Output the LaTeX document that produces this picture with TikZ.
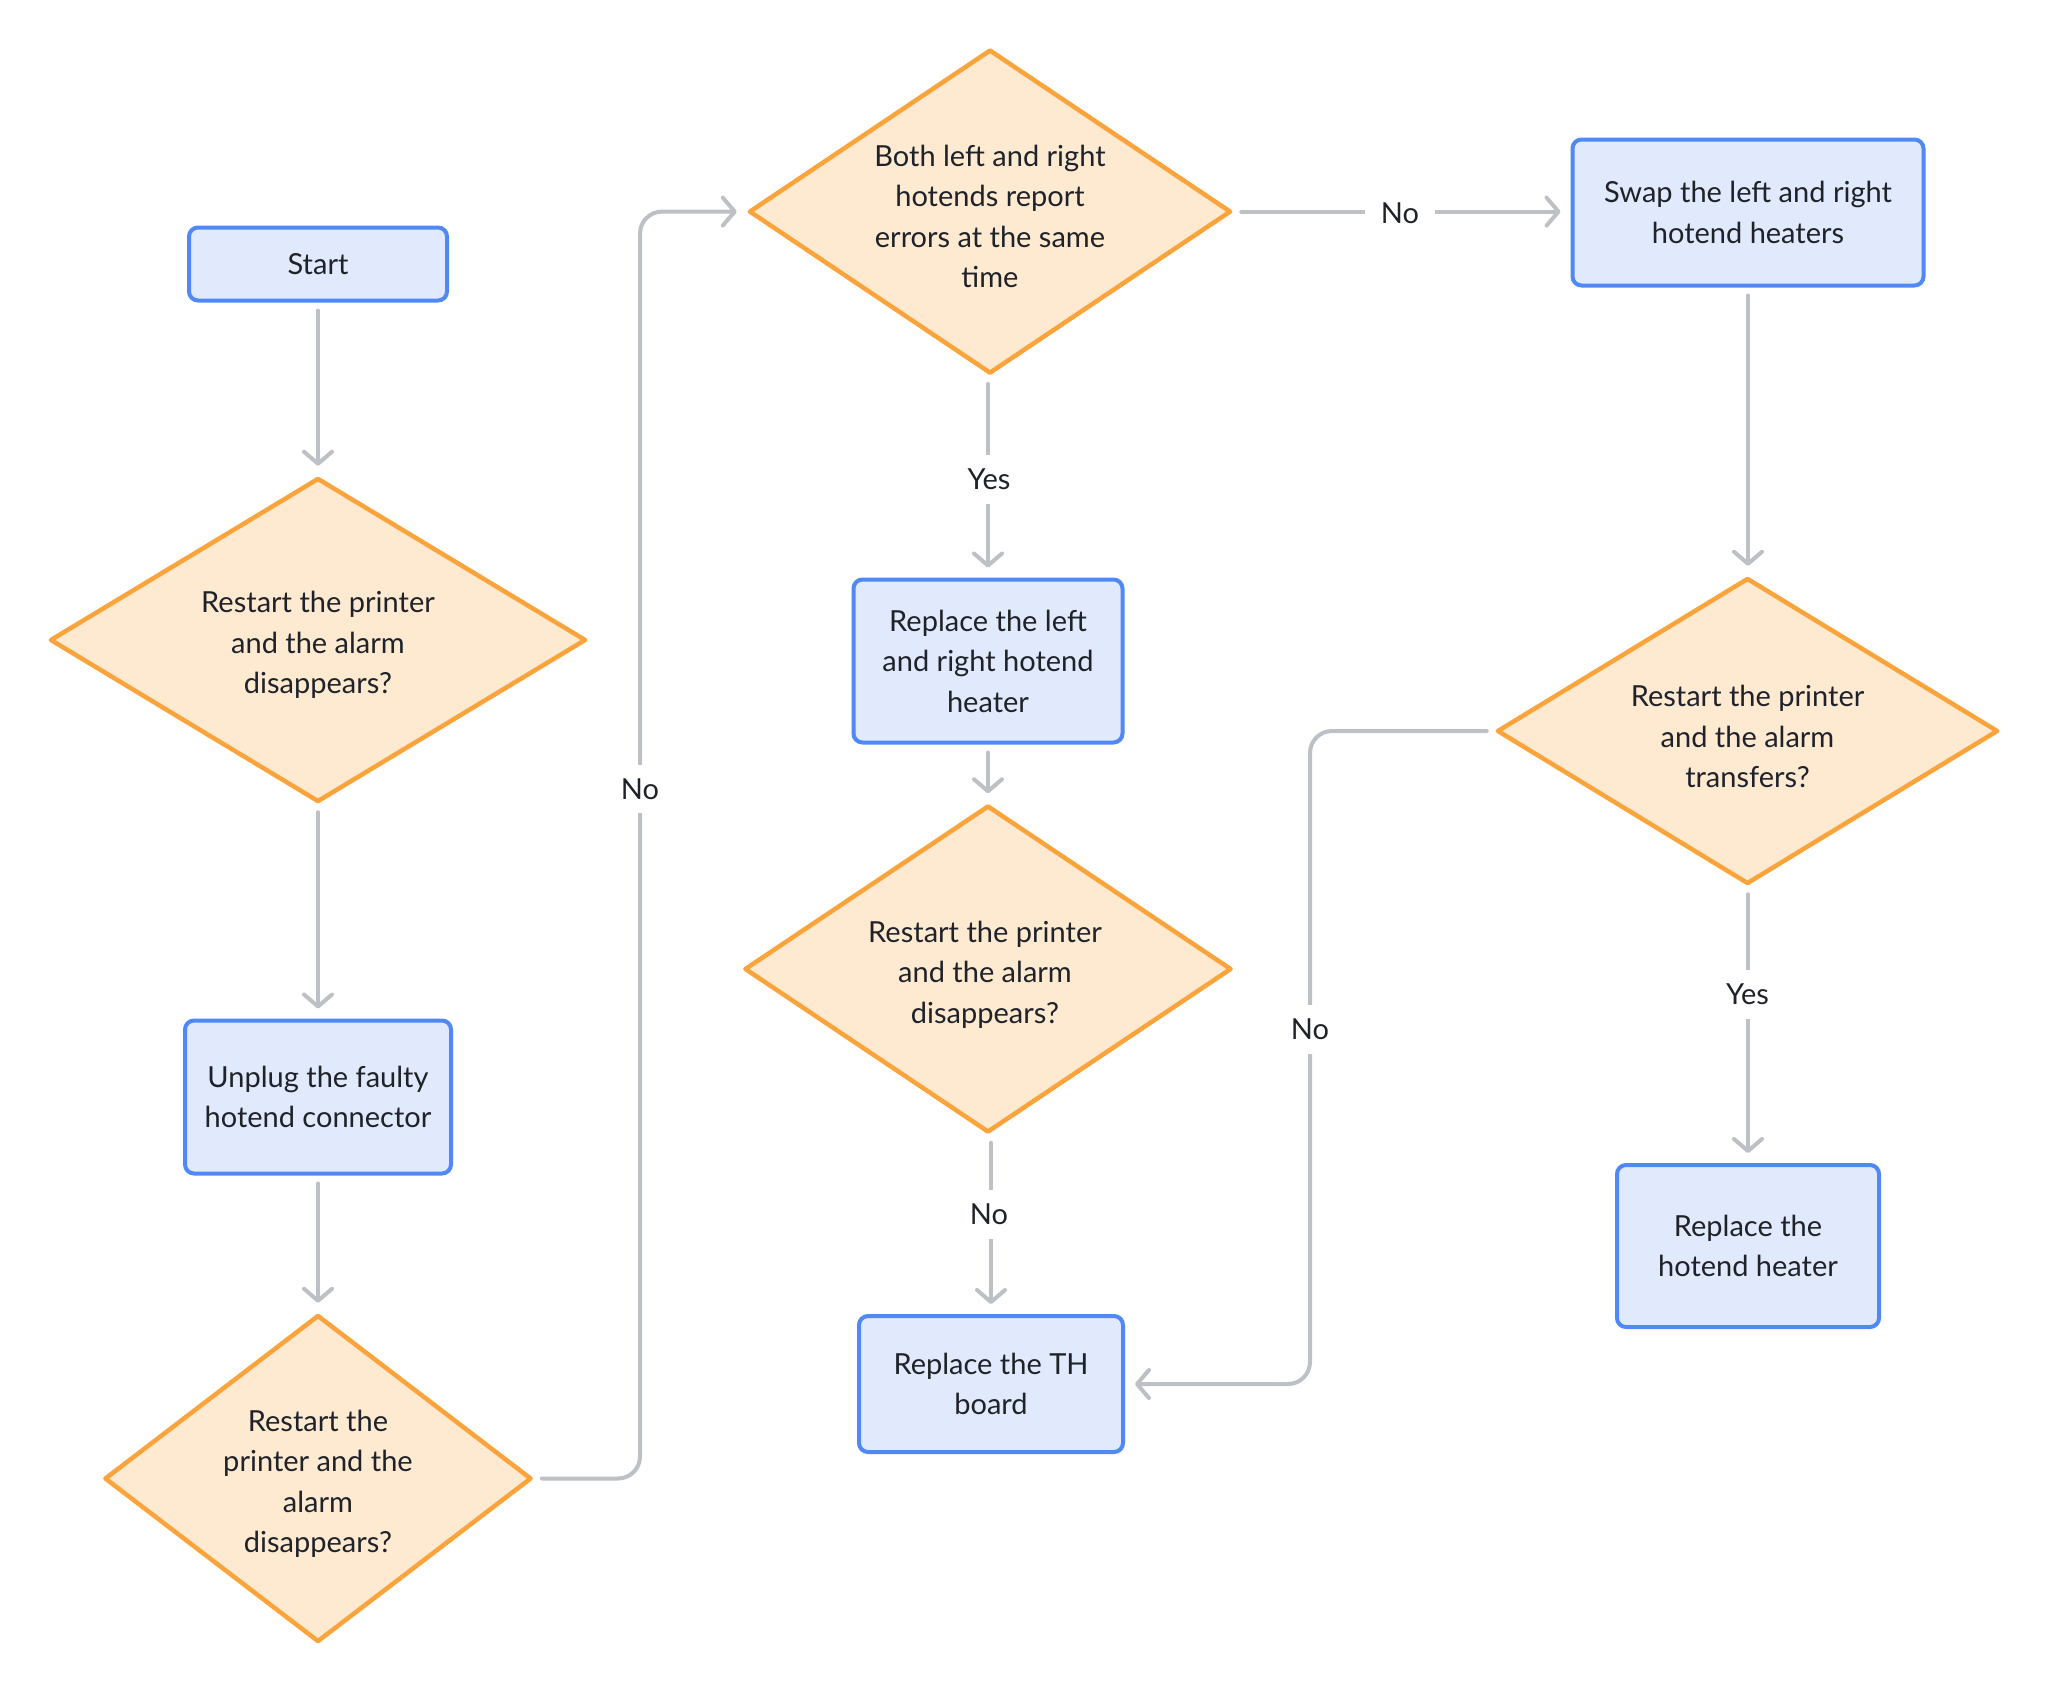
\documentclass[tikz,border=0pt]{standalone}
\usepackage{fontspec}
\setmainfont{Lato}
\usetikzlibrary{shapes.geometric,arrows.meta}
\definecolor{boxfill}{HTML}{E1EAFD}
\definecolor{boxline}{HTML}{5089F6}
\definecolor{dfill}{HTML}{FEE9D1}
\definecolor{dline}{HTML}{FBA43C}
\definecolor{connc}{HTML}{BDC0C5}
\definecolor{txt}{HTML}{1F2329}
\begin{document}
\begin{tikzpicture}[x=1pt,y=-1pt,
 every node/.style={font=\fontsize{29}{40.5}\selectfont, text=txt},
 procbox/.style={rectangle, rounded corners=9pt, draw=boxline, fill=boxfill, line width=4pt, align=center, inner sep=0pt},
 decision/.style={diamond, draw=dline, fill=dfill, line width=4.5pt, inner sep=0pt, line join=round},
 dtext/.style={align=center},
 conn/.style={draw=connc, line width=4pt, rounded corners=22pt, line cap=round, shorten <=8pt, shorten >=10pt,
   -{Straight Barb[length=12pt,width=28pt,round]}},
 lbl/.style={fill=white, inner xsep=16pt, inner ysep=14pt}
]
\fill[white] (0,0) rectangle (2048,1694);
\useasboundingbox (0,0) rectangle (2048,1694);

% column 1
\node[procbox, minimum width=258pt, minimum height=73pt] (start) at (318,264) {Start};
\node[decision, minimum width=536pt, minimum height=324pt] (d1) at (318,640) {};
\node[dtext] (d1t) at (318,645) {Restart the printer\\and the alarm\\disappears?};
\node[procbox, minimum width=266pt, minimum height=153pt] (unplug) at (318,1097) {Unplug the faulty\\hotend connector};
\node[decision, minimum width=427pt, minimum height=327pt] (d3) at (318,1478.5) {};
\node[dtext] (d3t) at (318,1484) {Restart the\\printer and the\\alarm\\disappears?};

% column 2
\node[decision, minimum width=482pt, minimum height=324pt] (dtop) at (990,211.6) {};
\node[dtext] (dtopt) at (990,216.5) {Both left and right\\hotends report\\errors at the same\\time};
\node[procbox, minimum width=269pt, minimum height=163pt] (lr) at (988,661) {Replace the left\\and right hotend\\heater};
\node[decision, minimum width=487pt, minimum height=327pt] (dmid) at (988,969) {};
\node[dtext] (dmidt) at (985,974.5) {Restart the printer\\and the alarm\\disappears?};
\node[procbox, minimum width=264pt, minimum height=136pt] (th) at (991,1384) {Replace the TH\\board};

% column 3
\node[procbox, minimum width=351pt, minimum height=146pt] (swap) at (1748,212.5) {Swap the left and right\\hotend heaters};
\node[decision, minimum width=501pt, minimum height=306pt] (dr) at (1747.5,731) {};
\node[dtext] (drt) at (1747.5,736.5) {Restart the printer\\and the alarm\\transfers?};
\node[procbox, minimum width=262pt, minimum height=162pt] (heater) at (1748,1246) {Replace the\\hotend heater};

\coordinate (bx) at (640,0);
\coordinate (bx2) at (1310,0);

% connectors
\draw[conn] (start.south) -- (d1.north);
\draw[conn] (d1.south) -- (unplug.north);
\draw[conn] (unplug.south) -- (d3.north);
\draw[conn] (d3.east) -- (d3.east -| bx) -- (dtop.west -| bx) -- (dtop.west);
\draw[conn] (dtop.south -| lr.north) -- (lr.north);
\draw[conn] (lr.south) -- (dmid.north -| lr.south);
\draw[conn] (dmid.south -| th.north) -- (th.north);
\draw[conn] (dtop.east) -- (dtop.east -| swap.west);
\draw[conn] (swap.south) -- (dr.north -| swap.south);
\draw[conn] (dr.south -| heater.north) -- (heater.north);
\draw[conn] (dr.west) -- (dr.west -| bx2) -- (th.east -| bx2) -- (th.east);

% labels
\node[lbl] (l1) at (640,789) {No};
\node[lbl] (l2) at (989,479.5) {Yes};
\node[lbl] (l3) at (989,1214.5) {No};
\node[lbl] (l4) at (1400,213) {No};
\node[lbl] (l5) at (1747.5,994) {Yes};
\node[lbl] (l6) at (1310,1029.5) {No};
\end{tikzpicture}
\end{document}
